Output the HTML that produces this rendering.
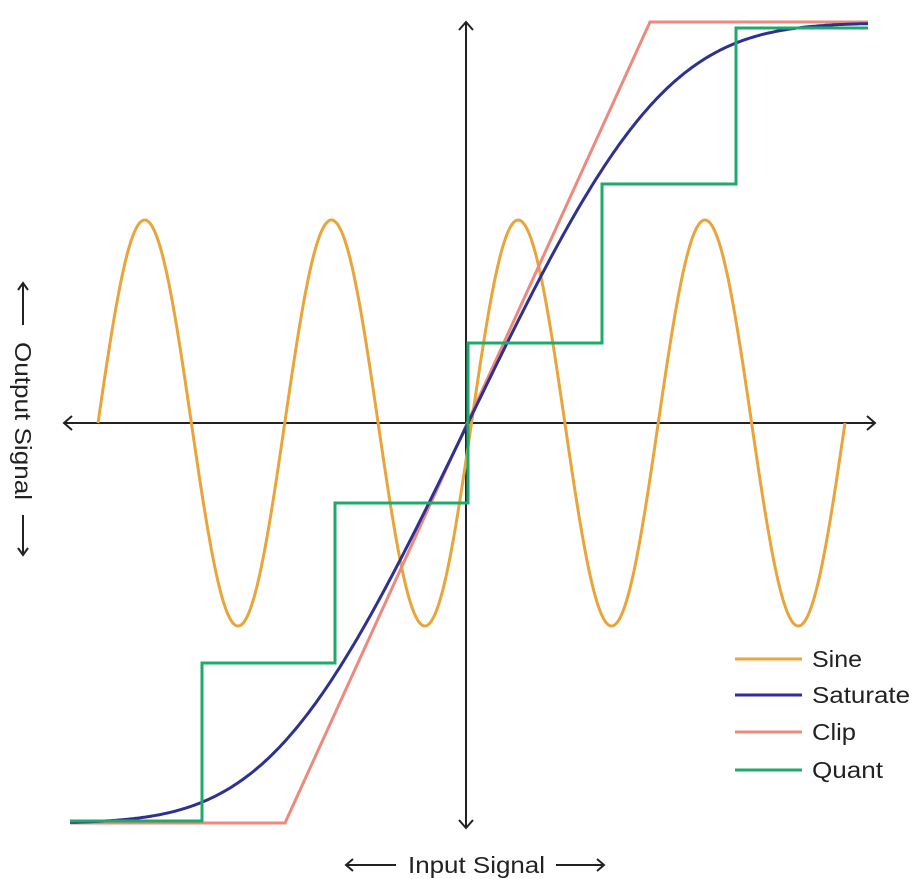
<!DOCTYPE html>
<html><head><meta charset="utf-8"><style>
html,body{margin:0;padding:0;background:#fff;}
svg{display:block;font-family:"Liberation Sans",sans-serif;}
</style></head><body>
<svg id="s" width="915" height="879" viewBox="0 0 915 879">
<g stroke="#222" stroke-width="2" fill="none">
<line x1="64" y1="423" x2="875" y2="423"/>
<polyline points="72,416 64,423 72,430"/>
<polyline points="867,416 875,423 867,430"/>
<line x1="466" y1="22" x2="466" y2="828"/>
<polyline points="459,30 466,22 473,30"/>
<polyline points="459,820 466,828 473,820"/>
</g>
<path id="sine" fill="none" stroke="#E9A43A" stroke-width="3"/>
<polyline fill="none" stroke="#EC8A7E" stroke-width="3" points="70,823 285,823 650,22 868,22"/>
<path id="sat" fill="none" stroke="#2E3192" stroke-width="3"/>
<polyline fill="none" stroke="#1EAA6B" stroke-width="3" points="70,821 202,821 202,663 335,663 335,503 468,503 468,343 602,343 602,184 736,184 736,28 868,28"/>
<g stroke-width="3">
<line x1="735" y1="659" x2="802" y2="659" stroke="#E9A43A"/>
<line x1="735" y1="695" x2="802" y2="695" stroke="#2E3192"/>
<line x1="735" y1="732" x2="802" y2="732" stroke="#EC8A7E"/>
<line x1="735" y1="770" x2="802" y2="770" stroke="#1EAA6B"/>
</g>
<g font-size="23" fill="#222">
<text x="812" y="667" textLength="50" lengthAdjust="spacingAndGlyphs">Sine</text>
<text x="812" y="703" textLength="98" lengthAdjust="spacingAndGlyphs">Saturate</text>
<text x="812" y="740" textLength="44" lengthAdjust="spacingAndGlyphs">Clip</text>
<text x="812" y="778" textLength="71" lengthAdjust="spacingAndGlyphs">Quant</text>
<text x="408" y="873" textLength="137" lengthAdjust="spacingAndGlyphs">Input Signal</text>
<text transform="translate(15,421) rotate(90)" text-anchor="middle" textLength="158" lengthAdjust="spacingAndGlyphs">Output Signal</text>
</g>
<g stroke="#222" stroke-width="2" fill="none">
<line x1="346" y1="865" x2="396" y2="865"/><polyline points="353,859 346,865 353,871"/>
<line x1="556" y1="865" x2="604" y2="865"/><polyline points="597,859 604,865 597,871"/>
<line x1="23" y1="283" x2="23" y2="325"/><polyline points="18,290 23,283 28,290"/>
<line x1="23" y1="515" x2="23" y2="555"/><polyline points="18,548 23,555 28,548"/>
</g>
</svg>
<script>
var d="";for(var x=98;x<=845;x+=1){var y=423-203*Math.sin(2*Math.PI*(x-98)/186.75);d+=(x==98?"M":"L")+x+","+y.toFixed(1);}
document.getElementById("sine").setAttribute("d",d);
d="";for(var x=70;x<=868;x+=2){var u=(x-468)/400;var y=423-400*Math.tanh(2.06*u+1.5*u*u*u);d+=(x==70?"M":"L")+x+","+y.toFixed(1);}
document.getElementById("sat").setAttribute("d",d);
</script>
</body></html>
